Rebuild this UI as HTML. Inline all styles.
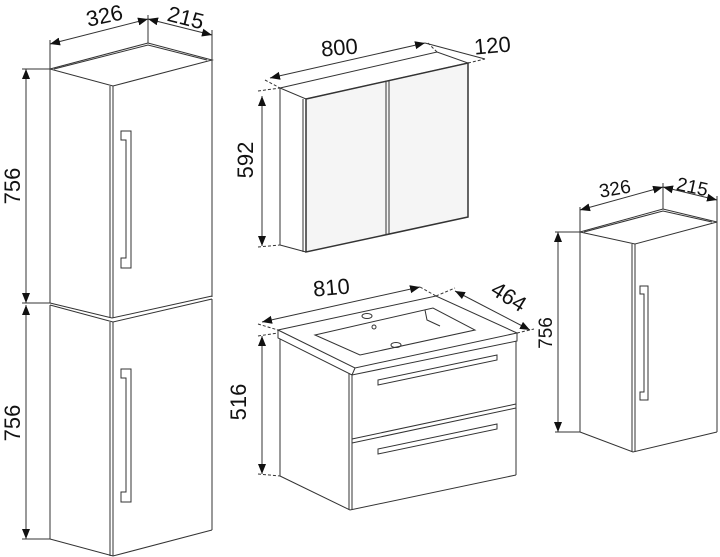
<!DOCTYPE html>
<html><head><meta charset="utf-8"><style>
html,body{margin:0;padding:0;background:#fff;}
svg{display:block;}
text{font-family:"Liberation Sans",sans-serif;font-size:22px;fill:#111;}
</style></head><body>
<svg width="720" height="557" viewBox="0 0 720 557" xmlns="http://www.w3.org/2000/svg">
<defs>
<marker id="a" viewBox="0 0 10 10" refX="10" refY="5" markerWidth="10" markerHeight="10" orient="auto-start-reverse" markerUnits="userSpaceOnUse"><path d="M0,1 L10,5 L0,9 Z" fill="#111"/></marker>
</defs>
<g fill="none" stroke="#333" stroke-width="1">
<polygon points="50,69 148,43 212,60 113,86" fill="#fff"/>
<polyline points="54,69 148,45 207,60"/>
<line x1="50" y1="69" x2="50" y2="303"/>
<line x1="113" y1="86" x2="113" y2="318"/>
<line x1="110" y1="86" x2="110" y2="318"/>
<line x1="212" y1="60" x2="212" y2="297"/>
<polyline points="50,303 112,318 212,296"/>
<path d="M121,131 H131 V268 H121 V258 H126 V140 H121 Z"/>
<polyline points="50,305 113,322 212,299"/>
<line x1="50" y1="305" x2="50" y2="539"/>
<line x1="113" y1="322" x2="113" y2="556"/>
<line x1="110" y1="322" x2="110" y2="556"/>
<line x1="212" y1="299" x2="212" y2="530"/>
<polyline points="50,539 113,556 212,530"/>
<path d="M121,369 H131 V502 H121 V492 H126 V378 H121 Z"/>
<line x1="26" y1="69" x2="26" y2="303" marker-start="url(#a)" marker-end="url(#a)"/>
<line x1="26" y1="305" x2="26" y2="539" marker-start="url(#a)" marker-end="url(#a)"/>
<line x1="22" y1="69" x2="50" y2="69"/><line x1="22" y1="303" x2="50" y2="303"/><line x1="22" y1="539" x2="50" y2="539"/>
<line x1="50" y1="40" x2="50" y2="69"/><line x1="148" y1="15" x2="148" y2="43"/><line x1="212" y1="30" x2="212" y2="60"/>
<line x1="50" y1="44" x2="148" y2="19" marker-start="url(#a)" marker-end="url(#a)"/>
<line x1="148" y1="19" x2="212" y2="35" marker-start="url(#a)" marker-end="url(#a)"/>

<polygon points="280,88 437,52 468,63 306,99" fill="#fff"/>
<line x1="280" y1="88" x2="280" y2="245"/>
<polygon points="306,99 468,63 468,217 306,252" fill="#f5f5f5" stroke-width="1.5"/>
<line x1="303" y1="99" x2="303" y2="252"/>
<polyline points="280,245 306,252"/>
<line x1="386" y1="82" x2="386" y2="235"/><line x1="389" y1="81" x2="389" y2="234"/>
<line x1="262" y1="96" x2="262" y2="246" marker-start="url(#a)" marker-end="url(#a)"/>
<line x1="258" y1="91" x2="280" y2="88" stroke-dasharray="3,2"/><line x1="258" y1="247" x2="280" y2="245" stroke-dasharray="3,2"/>
<line x1="270" y1="78" x2="425" y2="43" marker-start="url(#a)" marker-end="url(#a)"/>
<line x1="265" y1="80" x2="280" y2="88" stroke-dasharray="3,2"/>
<line x1="425" y1="43" x2="485" y2="59"/>
<line x1="437" y1="52" x2="428" y2="43" stroke-dasharray="3,2"/>
<line x1="468" y1="63" x2="485" y2="59" stroke-dasharray="3,2"/>

<polygon points="278,330 436,296 517,333 355,368" fill="#fff"/>
<polyline points="278,330 278,338 352,375 517,341 517,333"/>
<line x1="355" y1="368" x2="352" y2="375"/>
<polygon points="315,335 433,308 475,330 360,355"/>
<polyline points="425,310 427,320 440,326"/>
<ellipse cx="367" cy="316" rx="5" ry="2.5"/>
<ellipse cx="374" cy="327" rx="2" ry="2"/>
<ellipse cx="396" cy="345" rx="5" ry="2.5"/>
<line x1="280" y1="339" x2="280" y2="476"/>
<line x1="349" y1="373" x2="349" y2="510"/>
<line x1="352" y1="374" x2="352" y2="510"/>
<line x1="516" y1="341" x2="516" y2="475"/>
<polyline points="280,476 350,510 516,475"/>
<polyline points="352,439 516,404"/><polyline points="352,443 516,408"/>
<polygon points="378,380 497,355 497,360 378,385"/>
<polygon points="378,449 497,424 497,429 378,454"/>
<line x1="262" y1="336" x2="262" y2="474" marker-start="url(#a)" marker-end="url(#a)"/>
<line x1="258" y1="336" x2="278" y2="333" stroke-dasharray="3,2"/><line x1="258" y1="474" x2="280" y2="476" stroke-dasharray="3,2"/>
<line x1="262" y1="322" x2="420" y2="287" marker-start="url(#a)" marker-end="url(#a)"/>
<line x1="258" y1="324" x2="278" y2="330" stroke-dasharray="3,2"/>
<line x1="420" y1="287" x2="436" y2="296" stroke-dasharray="3,2"/>
<line x1="455" y1="291" x2="530" y2="330" marker-start="url(#a)" marker-end="url(#a)"/>
<line x1="436" y1="296" x2="455" y2="288" stroke-dasharray="3,2"/>
<line x1="517" y1="333" x2="534" y2="329" stroke-dasharray="3,2"/>

<polygon points="580,232 663,209 717,222 635,244" fill="#fff"/>
<polyline points="584,232 663,211 712,222"/>
<line x1="580" y1="232" x2="580" y2="432"/>
<line x1="632" y1="244" x2="632" y2="452"/><line x1="635" y1="244" x2="635" y2="452"/>
<line x1="717" y1="222" x2="717" y2="432"/>
<polyline points="580,432 633,452 717,432"/>
<path d="M640,286 H648 V400 H640 V392 H644 V294 H640 Z"/>
<line x1="558" y1="232" x2="558" y2="432" marker-start="url(#a)" marker-end="url(#a)"/>
<line x1="555" y1="232" x2="580" y2="232"/><line x1="555" y1="432" x2="580" y2="432"/>
<line x1="580" y1="207" x2="580" y2="232"/><line x1="663" y1="183" x2="663" y2="209"/><line x1="717" y1="196" x2="717" y2="222"/>
<line x1="580" y1="210" x2="663" y2="187" marker-start="url(#a)" marker-end="url(#a)"/>
<line x1="663" y1="187" x2="717" y2="200" marker-start="url(#a)" marker-end="url(#a)"/>
</g>
<g>
<text x="106" y="23" text-anchor="middle" transform="rotate(-12 106 23)">326</text>
<text x="184" y="25" text-anchor="middle" transform="rotate(14 184 25)">215</text>
<text x="20" y="186" text-anchor="middle" transform="rotate(-90 20 186)">756</text>
<text x="20" y="423" text-anchor="middle" transform="rotate(-90 20 423)">756</text>
<text x="340" y="55" text-anchor="middle" transform="rotate(-5 340 55)">800</text>
<text x="493" y="53" text-anchor="middle" transform="rotate(-5 493 53)">120</text>
<text x="253" y="160" text-anchor="middle" transform="rotate(-90 253 160)">592</text>
<text x="332" y="295" text-anchor="middle" transform="rotate(-5 332 295)">810</text>
<text x="505" y="303" text-anchor="middle" transform="rotate(32 505 303)">464</text>
<text x="246" y="402" text-anchor="middle" transform="rotate(-90 246 402)">516</text>
<text x="616" y="195" text-anchor="middle" style="font-size:19px" transform="rotate(-10 616 195)">326</text>
<text x="691" y="193" text-anchor="middle" style="font-size:19px" transform="rotate(12 691 193)">215</text>
<text x="552" y="333" text-anchor="middle" style="font-size:19px" transform="rotate(-90 552 333)">756</text>
</g>
</svg>
</body></html>
